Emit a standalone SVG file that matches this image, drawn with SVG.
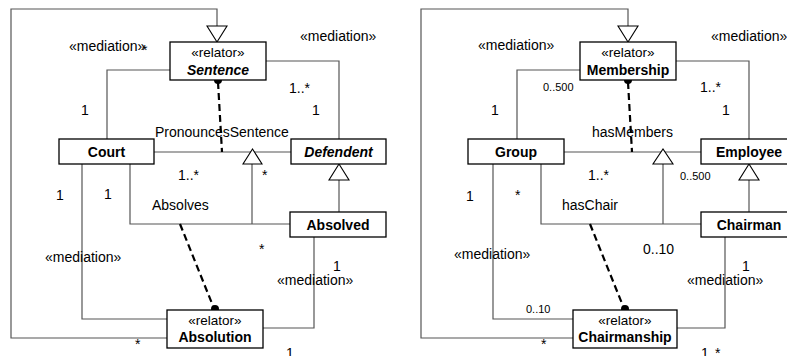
<svg xmlns="http://www.w3.org/2000/svg" width="787" height="356" viewBox="0 0 787 356">
<style>
text{font-family:"Liberation Sans",Arial,sans-serif;fill:#000}
.box{fill:#fff;stroke:#000;stroke-width:1.3}
.ln{fill:none;stroke:#555;stroke-width:1.2}
.tri{fill:#fff;stroke:#000;stroke-width:1.1}
.dash{fill:none;stroke:#000;stroke-width:2.2;stroke-dasharray:7,4}
.lbl{font-size:14px}
.sm{font-size:11px}
.st{font-size:13.5px}
.nm{font-size:14px;font-weight:bold}
.it{font-style:italic}
.m{text-anchor:middle}
</style>
<rect width="787" height="356" fill="#fff"/>
<g id="connectors">
 <!-- left diagram -->
 <polyline class="ln" points="217,27 217,9 11,9 11,338 167,338"/>
 <polygon class="tri" points="207,26 227,26 217,42"/>
 <polyline class="ln" points="170,70 107,70 107,139"/>
 <polyline class="ln" points="266,61 339,61 339,139"/>
 <line class="ln" x1="154" y1="152" x2="291" y2="152"/>
 <line class="dash" x1="218" y1="82" x2="222" y2="152"/>
 <circle cx="218" cy="80" r="4" fill="#000"/>
 <polyline class="ln" points="130,164 130,224 290,224"/>
 <line class="ln" x1="252" y1="164" x2="252" y2="224"/>
 <polygon class="tri" points="243,164 262,164 252.5,149"/>
 <polyline class="ln" points="82,164 82,319 167,319"/>
 <line class="dash" x1="180" y1="224" x2="213" y2="306"/>
 <circle cx="215" cy="309" r="4" fill="#000"/>
 <line class="ln" x1="339" y1="180" x2="339" y2="212"/>
 <polygon class="tri" points="329,180 349,180 339,164"/>
 <polyline class="ln" points="314,237 314,328 263,328"/>
 <!-- right diagram -->
 <polyline class="ln" points="628,27 628,9 421,9 421,338 573,338"/>
 <polygon class="tri" points="618,26 638,26 628,42"/>
 <polyline class="ln" points="580,70 517,70 517,139"/>
 <polyline class="ln" points="676,61 749,61 749,139"/>
 <line class="ln" x1="564" y1="152" x2="701" y2="152"/>
 <line class="dash" x1="628" y1="82" x2="632" y2="152"/>
 <circle cx="628" cy="80" r="4" fill="#000"/>
 <polyline class="ln" points="541,164 541,224 701,224"/>
 <line class="ln" x1="663" y1="164" x2="663" y2="224"/>
 <polygon class="tri" points="653,164 673,164 663,149"/>
 <polyline class="ln" points="493,164 493,319 573,319"/>
 <line class="dash" x1="590" y1="224" x2="623" y2="306"/>
 <circle cx="625" cy="309" r="4" fill="#000"/>
 <line class="ln" x1="749" y1="180" x2="749" y2="212"/>
 <polygon class="tri" points="739,180 759,180 749,164"/>
 <polyline class="ln" points="725,237 725,328 677,328"/>
</g>
<g id="labels">
 <text class="lbl" x="69" y="51">«mediation»</text>
 <text class="lbl" x="142" y="55">*</text>
 <text class="lbl" x="300" y="41">«mediation»</text>
 <text class="lbl" x="81" y="115">1</text>
 <text class="lbl" x="289" y="93">1..*</text>
 <text class="lbl" x="312" y="115">1</text>
 <text class="lbl" x="155" y="137">PronouncesSentence</text>
 <text class="lbl" x="178" y="180">1..*</text>
 <text class="lbl" x="262" y="180">*</text>
 <text class="lbl" x="56" y="200">1</text>
 <text class="lbl" x="104" y="199">1</text>
 <text class="lbl" x="152" y="210">Absolves</text>
 <text class="lbl" x="259" y="254">*</text>
 <text class="lbl" x="45" y="262">«mediation»</text>
 <text class="lbl" x="333" y="271">1</text>
 <text class="lbl" x="277" y="285">«mediation»</text>
 <text class="lbl" x="135" y="349">*</text>
 <text class="lbl" x="286" y="358">1</text>

 <text class="lbl" x="478" y="50">«mediation»</text>
 <text class="lbl" x="711" y="41">«mediation»</text>
 <text class="sm" x="543" y="91">0..500</text>
 <text class="lbl" x="491" y="115">1</text>
 <text class="lbl" x="700" y="92">1..*</text>
 <text class="lbl" x="722" y="115">1</text>
 <text class="lbl" x="592" y="137">hasMembers</text>
 <text class="lbl" x="588" y="180">1..*</text>
 <text class="sm" x="680" y="180">0..500</text>
 <text class="lbl" x="466" y="201">1</text>
 <text class="lbl" x="515" y="200">*</text>
 <text class="lbl" x="562" y="210">hasChair</text>
 <text class="lbl" x="643" y="254">0..10</text>
 <text class="lbl" x="454" y="259">«mediation»</text>
 <text class="lbl" x="742" y="271">1</text>
 <text class="lbl" x="687" y="285">«mediation»</text>
 <text class="sm" x="526" y="313">0..10</text>
 <text class="lbl" x="541" y="349">*</text>
 <text class="lbl" x="701" y="358">1</text>
 <text class="lbl" x="715" y="358">*</text>
</g>
<g id="Sentence">
 <rect class="box" x="170" y="42" width="96" height="38"/>
 <text class="st m" x="218" y="57">«relator»</text>
 <text class="nm it m" x="218" y="75">Sentence</text>
</g>
<g id="Court">
 <rect class="box" x="59" y="139" width="95" height="25"/>
 <text class="nm m" x="106.5" y="157">Court</text>
</g>
<g id="Defendent">
 <rect class="box" x="291" y="139" width="95" height="25"/>
 <text class="nm it m" x="338.5" y="157">Defendent</text>
</g>
<g id="Absolved">
 <rect class="box" x="290" y="212" width="96" height="25"/>
 <text class="nm m" x="338" y="229.5">Absolved</text>
</g>
<g id="Absolution">
 <rect class="box" x="167" y="310" width="96" height="38"/>
 <text class="st m" x="215" y="325">«relator»</text>
 <text class="nm m" x="215" y="342">Absolution</text>
</g>
<g id="Membership">
 <rect class="box" x="580" y="42" width="96" height="38"/>
 <text class="st m" x="628" y="57">«relator»</text>
 <text class="nm m" x="628" y="75">Membership</text>
</g>
<g id="Group">
 <rect class="box" x="468" y="139" width="96" height="25"/>
 <text class="nm m" x="516" y="157">Group</text>
</g>
<g id="Employee">
 <rect class="box" x="701" y="139" width="96" height="25"/>
 <text class="nm m" x="749" y="157">Employee</text>
</g>
<g id="Chairman">
 <rect class="box" x="701" y="212" width="96" height="25"/>
 <text class="nm m" x="749" y="229.5">Chairman</text>
</g>
<g id="Chairmanship">
 <rect class="box" x="573" y="310" width="104" height="38"/>
 <text class="st m" x="625" y="325">«relator»</text>
 <text class="nm m" x="625" y="342">Chairmanship</text>
</g>
</svg>
